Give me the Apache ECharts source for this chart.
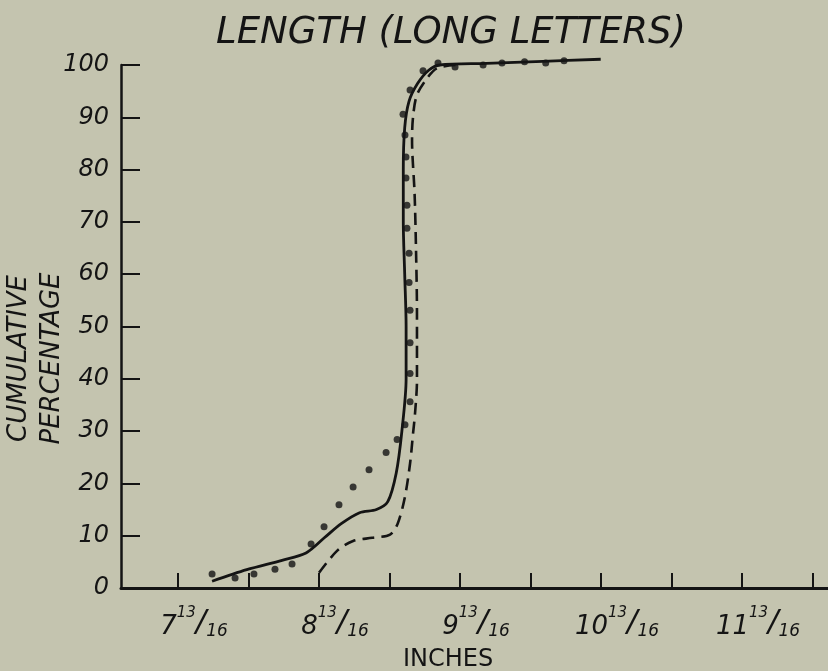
<!DOCTYPE html>
<html>
<head>
<meta charset="utf-8">
<script src="https://cdn.jsdelivr.net/npm/echarts@6/dist/echarts.min.js"></script>
<style>
  html, body { margin: 0; padding: 0; background: #c4c4af; }
  #chart { width: 828px; height: 671px; }
</style>
</head>
<body>
<div id="chart"></div>
<script>
// ---- data ----
const titleText = 'LENGTH (LONG LETTERS)';
const yName = 'CUMULATIVE\nPERCENTAGE';
const xName = 'INCHES';

// x tick positions (inches) and labels
const tickInches = [7.8125, 8.3125, 8.8125, 9.3125, 9.8125, 10.3125, 10.8125, 11.3125, 11.8125, 12.3125];
const labelInches = [7.8125, 8.8125, 9.8125, 10.8125, 11.8125];
const labelWhole = ['7', '8', '9', '10', '11'];
const yTicks = [0, 10, 20, 30, 40, 50, 60, 70, 80, 90, 100];

// solid curve
const solidInches = [8.054, 8.30, 8.55, 8.72, 8.85, 8.97, 9.10, 9.22, 9.30, 9.36, 9.40, 9.43, 9.43, 9.42, 9.41, 9.41, 9.42, 9.45, 9.51, 9.59, 9.67, 10.0, 10.4, 10.81];
const solidPct    = [1.3,   3.5,  5.3,  6.7,  9.6,  12.3, 14.4, 15.0, 16.5, 22,   30,   40,   50,   60,   70,   80,   88,   93,   96.4, 99,   100,  100.3, 100.7, 101.1];

// dashed curve
const dashedInches = [8.8125, 8.94, 9.054, 9.19, 9.316, 9.37, 9.42, 9.458, 9.479, 9.493, 9.507, 9.507, 9.50, 9.49, 9.472, 9.479, 9.507, 9.585, 9.65, 9.78];
const dashedPct    = [2.9,    7.1,  9.0,   9.6,  10.2,  12.3, 17.2, 23.8,  29.5,  33.3,  39.7,  52.5,  65,   75.5, 85.6,  90,    94.3,  97.7,  99.4, 100];

// dotted observations
const dotInches = [8.054, 8.217, 8.351, 8.500, 8.621, 8.756, 8.848, 8.954, 9.054, 9.167, 9.288, 9.366, 9.422, 9.458, 9.458, 9.458, 9.458, 9.451, 9.451, 9.436, 9.436, 9.429, 9.429, 9.422, 9.408, 9.458, 9.55, 9.656, 9.777, 9.976, 10.11, 10.27, 10.42, 10.55];
const dotPct    = [2.7,   1.9,   2.7,   3.6,   4.6,   8.4,   11.7,  15.9,  19.3,  22.6,  25.9,  28.4,  31.2,  35.6,  41.0,  46.9,  53.1,  58.4,  64.0,  68.8,  73.2,  78.4,  82.4,  86.6,  90.6,  95.2,  98.9, 100.4, 99.6,  100.0, 100.4, 100.6, 100.4, 100.8];

const zip = (a, b) => a.map((v, i) => [v, b[i]]);

const ink = '#141414';
const font = 'DejaVu Sans';

const chart = echarts.init(document.getElementById('chart'));
chart.setOption({
  backgroundColor: '#c4c4af',
  animation: false,
  title: {
    text: titleText,
    left: 446,
    textAlign: 'center',
    top: 10,
    textStyle: { fontFamily: font, fontStyle: 'italic', fontWeight: 'normal', fontSize: 37, color: ink }
  },
  grid: { left: 121, right: 0, top: 65, bottom: 83, outerBoundsMode: 'none', containLabel: false },
  xAxis: {
    type: 'value',
    min: 7.408,
    max: 12.422,
    name: xName,
    nameLocation: 'middle',
    nameGap: 60,
    nameMoveOverlap: false,
    nameTextStyle: { fontFamily: font, fontStyle: 'normal', fontSize: 24, color: ink, padding: [0, 53, 0, 0] },
    axisLine: { show: true, lineStyle: { color: ink, width: 3 } },
    axisTick: { show: true, inside: true, length: 15, lineStyle: { color: ink, width: 2 }, customValues: tickInches },
    splitLine: { show: false },
    axisLabel: {
      customValues: labelInches,
      margin: 18,
      padding: [0, 0, 0, 32],
      formatter: function (v) {
        const i = labelInches.findIndex(t => Math.abs(t - v) < 1e-6);
        if (i < 0) return '';
        return '{n|' + labelWhole[i] + '}{sup|13}{sl|/}{sub|16}';
      },
      rich: {
        n:   { fontFamily: font, fontStyle: 'italic', fontSize: 26, color: ink, lineHeight: 34, verticalAlign: 'bottom' },
        sup: { fontFamily: font, fontStyle: 'italic', fontSize: 15, color: ink, lineHeight: 16, verticalAlign: 'top' },
        sl:  { fontFamily: font, fontStyle: 'italic', fontSize: 31, color: ink, lineHeight: 34, verticalAlign: 'middle' },
        sub: { fontFamily: font, fontStyle: 'italic', fontSize: 17, color: ink, lineHeight: 18, verticalAlign: 'bottom' }
      }
    }
  },
  yAxis: {
    type: 'value',
    min: 0,
    max: 100,
    interval: 10,
    name: yName,
    nameLocation: 'middle',
    nameRotate: 90,
    nameGap: 52,
    nameMoveOverlap: false,
    nameTextStyle: { fontFamily: font, fontStyle: 'italic', fontSize: 26, lineHeight: 33, color: ink, padding: [0, 64, 0, 0] },
    axisLine: { show: true, lineStyle: { color: ink, width: 2.5 } },
    axisTick: { show: true, inside: true, length: 19, lineStyle: { color: ink, width: 2 } },
    splitLine: { show: false },
    axisLabel: {
      margin: 12,
      fontFamily: font, fontStyle: 'italic', fontSize: 24, color: ink
    }
  },
  series: [
    {
      name: 'solid',
      type: 'line',
      data: zip(solidInches, solidPct),
      smooth: 0.3,
      showSymbol: false,
      clip: false,
      lineStyle: { color: ink, width: 2.8 }
    },
    {
      name: 'dashed',
      type: 'line',
      data: zip(dashedInches, dashedPct),
      smooth: 0.3,
      showSymbol: false,
      clip: false,
      lineStyle: { color: ink, width: 2.6, type: [12, 7] }
    },
    {
      name: 'dots',
      type: 'scatter',
      data: zip(dotInches, dotPct),
      symbol: 'circle',
      symbolSize: 7,
      clip: false,
      itemStyle: { color: ink }
    }
  ]
});
</script>
</body>
</html>
